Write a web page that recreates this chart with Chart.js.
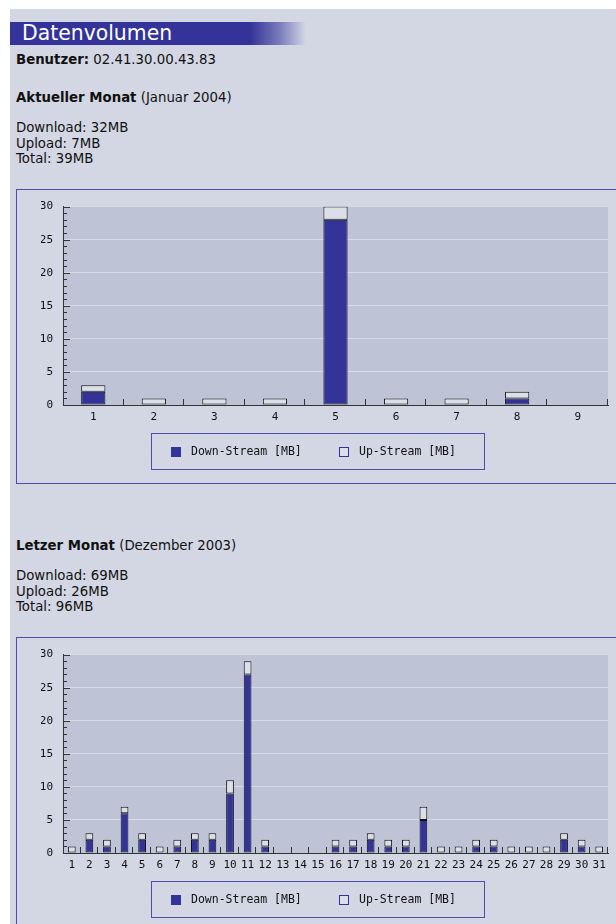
<!DOCTYPE html>
<html lang="de">
<head>
<meta charset="UTF-8">
<title>Datenvolumen</title>
<script src="https://cdn.jsdelivr.net/npm/chart.js"></script>
<style>
  body { margin: 0; background: #fff; width: 616px; height: 924px; overflow: hidden; position: relative; font-family: "DejaVu Sans", Verdana, sans-serif; }
  #page { position: absolute; left: 10px; top: 9px; width: 620px; height: 940px; background: #d3d7e4; }
  .txt { position: absolute; left: 16px; font-size: 13.3px; line-height: 15.5px; color: #111; white-space: nowrap; }
  .txt b { font-weight: bold; }
  #head { position: absolute; left: 10px; top: 22px; width: 296px; height: 23px;
    background: linear-gradient(to right, #333399 0, #333399 240px, rgba(51,51,153,0.55) 270px, rgba(51,51,153,0) 296px);
    color: #fff; font-size: 20.4px; line-height: 23px; padding-left: 12px; box-sizing: border-box; }
  .frame { position: absolute; left: 16px; width: 640px; height: 293px; border: 1px solid #4d4dad; }
  .frame canvas { position: absolute; left: 0; top: 0; }
  .legend { position: absolute; left: 134px; top: 243px; width: 332px; height: 35px; border: 1px solid #4d4dad;
    font-family: "DejaVu Sans Mono", monospace; font-size: 11.5px; color: #111; }
  .legend span { position: absolute; white-space: nowrap; }
  .legend .sw { width: 8px; height: 8px; top: 13px; }
  .legend .lb { top: 10px; line-height: 14px; }
</style>
</head>
<body>
<div id="page"></div>
<div id="head">Datenvolumen</div>
<div class="txt" style="top:52px"><b>Benutzer:</b> 02.41.30.00.43.83</div>
<div class="txt" style="top:90px"><b>Aktueller Monat</b> (Januar 2004)</div>
<div class="txt" style="top:120px">Download: 32MB<br>Upload: 7MB<br>Total: 39MB</div>
<div class="frame" style="top:189px"><canvas id="c1" width="600" height="293"></canvas><div class="legend" id="l1"></div></div>

<div class="txt" style="top:538px"><b>Letzer Monat</b> (Dezember 2003)</div>
<div class="txt" style="top:568px">Download: 69MB<br>Upload: 26MB<br>Total: 96MB</div>
<div class="frame" style="top:637px"><canvas id="c2" width="600" height="293"></canvas><div class="legend" id="l2"></div></div>

<script>
// Januar 2004
const janDays = ["1", "2", "3", "4", "5", "6", "7", "8", "9"];
const janDown = [2, 0, 0, 0, 28, 0, 0, 1, 0];
const janUp   = [1, 1, 1, 1, 2, 1, 1, 1, 0];

// Dezember 2003
const decDays = ["1","2","3","4","5","6","7","8","9","10","11","12","13","14","15","16",
                 "17","18","19","20","21","22","23","24","25","26","27","28","29","30","31"];
const decDown = [0, 2, 1, 6, 2, 0, 1, 2, 2, 9, 27, 1, 0, 0, 0, 1, 1, 2, 1, 1, 5, 0, 0, 1, 1, 0, 0, 0, 2, 1, 0];
const decUp   = [1, 1, 1, 1, 1, 1, 1, 1, 1, 2, 2, 1, 0, 0, 0, 1, 1, 1, 1, 1, 2, 1, 1, 1, 1, 1, 1, 1, 1, 1, 1];

const yMax = 30;
const yStep = 5;
const seriesNames = ["Down-Stream [MB]", "Up-Stream [MB]"];

const downColor = "#333399";
const upColor = "#dcdfe7";
const monoFont = { family: "DejaVu Sans Mono", size: 11 };

// plot background + inside tick marks like the original
const plotDeco = {
  id: "plotDeco",
  beforeDraw(chart) {
    const a = chart.chartArea, ctx = chart.ctx;
    ctx.save();
    ctx.fillStyle = "#bec4d6";
    ctx.fillRect(a.left, a.top, a.right - a.left, a.bottom - a.top);
    ctx.restore();
  },
  afterDraw(chart) {
    const a = chart.chartArea, ctx = chart.ctx;
    const x = chart.scales.x, y = chart.scales.y;
    ctx.save();
    ctx.strokeStyle = "#333";
    ctx.lineWidth = 1;
    ctx.beginPath();
    for (let v = 0; v <= yMax; v++) {
      const py = Math.round(y.getPixelForValue(v)) + 0.5;
      const len = v % yStep === 0 ? 7 : 4;
      ctx.moveTo(a.left, py);
      ctx.lineTo(a.left + len, py);
    }
    const n = x.ticks.length;
    for (let i = 1; i <= n; i++) {
      let px = i < n ? (x.getPixelForValue(i - 1) + x.getPixelForValue(i)) / 2 : a.right;
      px = Math.round(px) - 0.5;
      ctx.moveTo(px, a.bottom);
      ctx.lineTo(px, a.bottom - 6);
    }
    ctx.stroke();
    ctx.restore();
  }
};

function makeChart(id, legendId, labels, down, up, barPct) {
  const chart = new Chart(document.getElementById(id), {
    type: "bar",
    data: {
      labels: labels,
      datasets: [
        { label: seriesNames[0], data: down, backgroundColor: downColor, borderColor: "#111", borderWidth: 1, borderSkipped: false, barPercentage: barPct, categoryPercentage: 1 },
        { label: seriesNames[1], data: up, backgroundColor: upColor, borderColor: "#111", borderWidth: 1, borderSkipped: false, barPercentage: barPct, categoryPercentage: 1 }
      ]
    },
    options: {
      responsive: false,
      animation: false,
      devicePixelRatio: 1,
      layout: { padding: { left: 24, right: 9, top: 5, bottom: 59 } },
      plugins: { legend: { display: false }, tooltip: { enabled: false } },
      scales: {
        x: {
          stacked: true,
          grid: { display: false, drawTicks: false },
          border: { display: true, color: "#333", width: 1 },
          ticks: { autoSkip: false, maxRotation: 0, padding: 6, color: "#111", font: monoFont },
          afterFit(s) { s.height = 19; }
        },
        y: {
          stacked: true,
          min: 0, max: yMax,
          grid: {
            drawTicks: false,
            color: ctx => ctx.tick.value > 0 ? "#d6dae4" : "rgba(0,0,0,0)",
            lineWidth: 1
          },
          border: { display: true, color: "#333", width: 1 },
          ticks: { stepSize: yStep, padding: 10, color: "#111", font: monoFont },
          afterFit(s) { s.width = 22; }
        }
      }
    },
    plugins: [plotDeco]
  });

  // legend box, built from the datasets
  const lg = document.getElementById(legendId);
  const swX = [19, 187], lbX = [39, 207];
  chart.data.datasets.forEach((ds, i) => {
    const sw = document.createElement("span");
    sw.className = "sw";
    sw.style.left = swX[i] + "px";
    sw.style.background = ds.backgroundColor;
    sw.style.border = "1px solid " + downColor;
    lg.appendChild(sw);
    const lb = document.createElement("span");
    lb.className = "lb";
    lb.style.left = lbX[i] + "px";
    lb.textContent = ds.label;
    lg.appendChild(lb);
  });
  return chart;
}

makeChart("c1", "l1", janDays, janDown, janUp, 0.4);
makeChart("c2", "l2", decDays, decDown, decUp, 0.44);
</script>
</body>
</html>
